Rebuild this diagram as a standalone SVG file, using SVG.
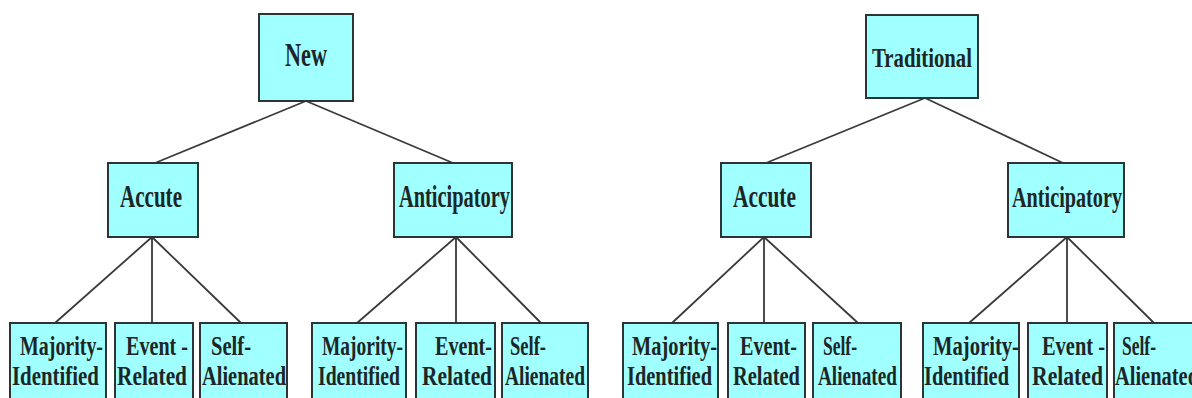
<svg xmlns="http://www.w3.org/2000/svg" width="1192" height="398" viewBox="0 0 1192 398">
<style>
.box{fill:#a0ffff;stroke:#2b3535;stroke-width:2}
.ln{stroke:#3a3a3a;stroke-width:1.8;fill:none}
text{font-family:"Liberation Serif","Times New Roman",serif;font-size:21px;font-weight:bold;fill:#1c2626}
</style>
<rect width="1192" height="398" fill="#ffffff"/>
<g id="connectors">
<path class="ln" d="M306 101 L155 163 M306 101 L453 163"/>
<path class="ln" d="M152 237 L55 323 M152 237 L152 323 M152 237 L241 323"/>
<path class="ln" d="M456 237 L357 323 M456 237 L456 323 M456 237 L541 323"/>
<path class="ln" d="M925 98 L766 163 M925 98 L1063 163"/>
<path class="ln" d="M764 237 L672 323 M764 237 L764 323 M764 237 L858 323"/>
<path class="ln" d="M1067 237 L969 323 M1067 237 L1067 323 M1067 237 L1154 323"/>
</g>
<g id="new"><rect class="box" x="259" y="14" width="94" height="87"/><text transform="translate(0 66) scale(1 1.5)" x="285" y="0" textLength="42" lengthAdjust="spacingAndGlyphs" style="font-size:22px">New</text></g>
<g id="traditional"><rect class="box" x="866" y="15" width="112" height="83"/><text transform="translate(0 67) scale(1 1.3)" x="872" y="0" textLength="100" lengthAdjust="spacingAndGlyphs" style="font-size:20.4px">Traditional</text></g>
<g id="new-accute"><rect class="box" x="108" y="163" width="90" height="74"/><text transform="translate(0 207) scale(1 1.5)" x="120" y="0" textLength="62" lengthAdjust="spacingAndGlyphs">Accute</text></g>
<g id="new-anticipatory"><rect class="box" x="394" y="163" width="118" height="74"/><text transform="translate(0 207) scale(1 1.5)" x="399" y="0" textLength="111" lengthAdjust="spacingAndGlyphs" style="font-size:20.4px">Anticipatory</text></g>
<g id="trad-accute"><rect class="box" x="721" y="163" width="90" height="74"/><text transform="translate(0 207) scale(1 1.5)" x="733" y="0" textLength="63" lengthAdjust="spacingAndGlyphs">Accute</text></g>
<g id="trad-anticipatory"><rect class="box" x="1008" y="163" width="116" height="74"/><text transform="translate(0 207) scale(1 1.5)" x="1012" y="0" textLength="110" lengthAdjust="spacingAndGlyphs" style="font-size:20.2px">Anticipatory</text></g>
<g id="l1-majority"><rect class="box" x="10" y="323" width="96" height="80"/><text transform="translate(0 354.5) scale(1 1.3)"><tspan x="20" y="0" textLength="83" lengthAdjust="spacingAndGlyphs">Majority-</tspan><tspan x="12" y="23.8" textLength="87" lengthAdjust="spacingAndGlyphs">Identified</tspan></text></g>
<g id="l1-event"><rect class="box" x="115" y="323" width="78" height="80"/><text transform="translate(0 354.5) scale(1 1.3)"><tspan x="126" y="0" textLength="62" lengthAdjust="spacingAndGlyphs">Event -</tspan><tspan x="117" y="23.8" textLength="70" lengthAdjust="spacingAndGlyphs">Related</tspan></text></g>
<g id="l1-self"><rect class="box" x="200" y="323" width="87" height="80"/><text transform="translate(0 354.5) scale(1 1.3)"><tspan x="211" y="0" textLength="40" lengthAdjust="spacingAndGlyphs">Self-</tspan><tspan x="202" y="23.8" textLength="84" lengthAdjust="spacingAndGlyphs">Alienated</tspan></text></g>
<g id="l2-majority"><rect class="box" x="312" y="323" width="94" height="80"/><text transform="translate(0 354.5) scale(1 1.3)"><tspan x="322" y="0" textLength="81" lengthAdjust="spacingAndGlyphs">Majority-</tspan><tspan x="318" y="23.8" textLength="82" lengthAdjust="spacingAndGlyphs">Identified</tspan></text></g>
<g id="l2-event"><rect class="box" x="416" y="323" width="79" height="80"/><text transform="translate(0 354.5) scale(1 1.3)"><tspan x="435" y="0" textLength="57" lengthAdjust="spacingAndGlyphs">Event-</tspan><tspan x="422" y="23.8" textLength="70" lengthAdjust="spacingAndGlyphs">Related</tspan></text></g>
<g id="l2-self"><rect class="box" x="502" y="323" width="86" height="80"/><text transform="translate(0 354.5) scale(1 1.3)"><tspan x="510" y="0" textLength="36" lengthAdjust="spacingAndGlyphs">Self-</tspan><tspan x="505" y="23.8" textLength="80" lengthAdjust="spacingAndGlyphs">Alienated</tspan></text></g>
<g id="r1-majority"><rect class="box" x="623" y="323" width="95" height="80"/><text transform="translate(0 354.5) scale(1 1.3)"><tspan x="632" y="0" textLength="85" lengthAdjust="spacingAndGlyphs">Majority-</tspan><tspan x="627" y="23.8" textLength="85" lengthAdjust="spacingAndGlyphs">Identified</tspan></text></g>
<g id="r1-event"><rect class="box" x="728" y="323" width="77" height="80"/><text transform="translate(0 354.5) scale(1 1.3)"><tspan x="740" y="0" textLength="57" lengthAdjust="spacingAndGlyphs">Event-</tspan><tspan x="733" y="23.8" textLength="67" lengthAdjust="spacingAndGlyphs">Related</tspan></text></g>
<g id="r1-self"><rect class="box" x="813" y="323" width="88" height="80"/><text transform="translate(0 354.5) scale(1 1.3)"><tspan x="823" y="0" textLength="34" lengthAdjust="spacingAndGlyphs">Self-</tspan><tspan x="818" y="23.8" textLength="79" lengthAdjust="spacingAndGlyphs">Alienated</tspan></text></g>
<g id="r2-majority"><rect class="box" x="923" y="323" width="96" height="80"/><text transform="translate(0 354.5) scale(1 1.3)"><tspan x="933" y="0" textLength="86" lengthAdjust="spacingAndGlyphs">Majority-</tspan><tspan x="924" y="23.8" textLength="85" lengthAdjust="spacingAndGlyphs">Identified</tspan></text></g>
<g id="r2-event"><rect class="box" x="1028" y="323" width="79" height="80"/><text transform="translate(0 354.5) scale(1 1.3)"><tspan x="1042" y="0" textLength="63" lengthAdjust="spacingAndGlyphs">Event -</tspan><tspan x="1032" y="23.8" textLength="71" lengthAdjust="spacingAndGlyphs">Related</tspan></text></g>
<g id="r2-self"><rect class="box" x="1114" y="323" width="90" height="80"/><text transform="translate(0 354.5) scale(1 1.3)"><tspan x="1122" y="0" textLength="34" lengthAdjust="spacingAndGlyphs">Self-</tspan><tspan x="1115" y="23.8" textLength="84" lengthAdjust="spacingAndGlyphs">Alienated</tspan></text></g>
</svg>
